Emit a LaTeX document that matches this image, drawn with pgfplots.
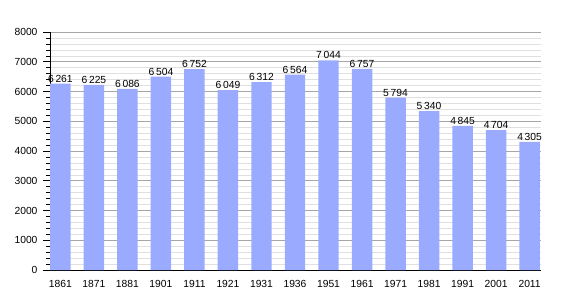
\documentclass[border=0pt]{standalone}
\usepackage{pgfplots}
\pgfplotsset{compat=1.18}
\usepackage{fontspec}
\setmainfont{Liberation Sans}
\definecolor{barblue}{RGB}{153,170,255}
\begin{document}
\begin{tikzpicture}[x=1pt,y=1pt]
\useasboundingbox (0,0) rectangle (570,300);
\begin{axis}[
  at={(50pt,30pt)}, anchor=south west,
  scale only axis, width=491pt, height=238pt,
  xmin=-0.31, xmax=14.34, ymin=0, ymax=8000,
  enlargelimits=false,
  axis x line*=bottom, axis y line*=left,
  axis line style={-, black, line width=0.8pt},
  ybar, bar width=0.61,
  xtick={0,...,14},
  xticklabels={1861,1871,1881,1901,1911,1921,1931,1936,1951,1961,1971,1981,1991,2001,2011},
  x tick style={draw=none},
  ytick={0,1000,...,8000},
  minor y tick num=4,
  tick align=outside,
  major tick length=7pt, minor tick length=4pt,
  y tick style={black, line width=0.6pt},
  ymajorgrids, yminorgrids,
  major grid style={color=black!35, line width=0.6pt},
  minor grid style={color=black!12, line width=0.5pt},
  /pgf/number format/assume math mode=true,
  /pgf/number format/1000 sep={\,},
  yticklabel style={/pgf/number format/1000 sep={}, font=\fontsize{10.3}{12}\selectfont, xshift=-2pt},
  xticklabel style={font=\fontsize{10.3}{12}\selectfont},
  nodes near coords,
  nodes near coords style={font=\fontsize{10.3}{12}\selectfont, anchor=base, yshift=1.5pt, text=black},
]
\addplot[fill=barblue, draw=none] coordinates {
(0,6261) (1,6225) (2,6086) (3,6504) (4,6752) (5,6049) (6,6312) (7,6564)
(8,7044) (9,6757) (10,5794) (11,5340) (12,4845) (13,4704) (14,4305)};
\end{axis}
\end{tikzpicture}
\end{document}
